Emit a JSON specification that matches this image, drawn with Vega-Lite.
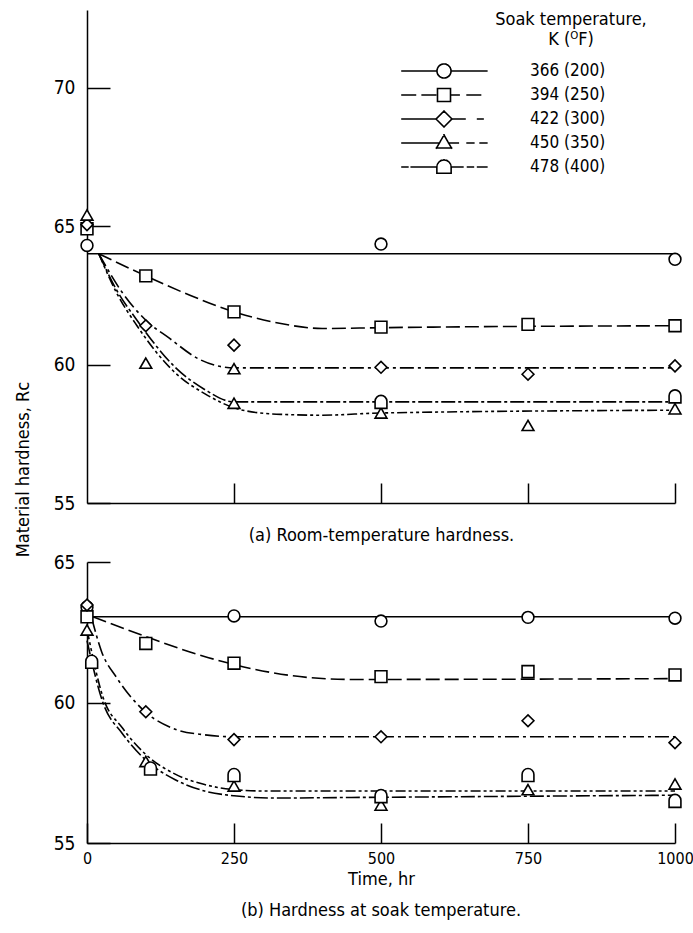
{
  "$schema": "https://vega.github.io/schema/vega-lite/v6.json",
  "padding": {"left": 14, "top": 10, "right": 5, "bottom": 5},
  "background": "white",
  "config": {
    "font": "DejaVu Sans Condensed, Liberation Sans Narrow, Liberation Sans, sans-serif",
    "view": {"stroke": null},
    "axis": {"domainColor": "black", "domainWidth": 1.5, "tickColor": "black", "tickWidth": 1.5, "labelColor": "black", "titleColor": "black", "grid": false, "titleFontWeight": "normal", "labelFontSize": 19, "titleFontSize": 18, "labelFlush": false},
    "title": {"fontWeight": "normal", "color": "black", "fontSize": 18},
    "legend": {"labelColor": "black"}
  },
  "datasets": {
    "pts": [
      {"panel": "a", "temp": "366 (200)", "time": 0, "hardness": 64.3},
      {"panel": "a", "temp": "366 (200)", "time": 500, "hardness": 64.35},
      {"panel": "a", "temp": "366 (200)", "time": 1000, "hardness": 63.8},
      {"panel": "a", "temp": "394 (250)", "time": 0, "hardness": 64.9},
      {"panel": "a", "temp": "394 (250)", "time": 100, "hardness": 63.2},
      {"panel": "a", "temp": "394 (250)", "time": 250, "hardness": 61.9},
      {"panel": "a", "temp": "394 (250)", "time": 500, "hardness": 61.35},
      {"panel": "a", "temp": "394 (250)", "time": 750, "hardness": 61.45},
      {"panel": "a", "temp": "394 (250)", "time": 1000, "hardness": 61.4},
      {"panel": "a", "temp": "422 (300)", "time": 0, "hardness": 65.05},
      {"panel": "a", "temp": "422 (300)", "time": 100, "hardness": 61.4},
      {"panel": "a", "temp": "422 (300)", "time": 250, "hardness": 60.7},
      {"panel": "a", "temp": "422 (300)", "time": 500, "hardness": 59.9},
      {"panel": "a", "temp": "422 (300)", "time": 750, "hardness": 59.65},
      {"panel": "a", "temp": "422 (300)", "time": 1000, "hardness": 59.95},
      {"panel": "a", "temp": "450 (350)", "time": 0, "hardness": 65.4},
      {"panel": "a", "temp": "450 (350)", "time": 100, "hardness": 60.05},
      {"panel": "a", "temp": "450 (350)", "time": 250, "hardness": 59.85},
      {"panel": "a", "temp": "450 (350)", "time": 250, "hardness": 58.6},
      {"panel": "a", "temp": "450 (350)", "time": 500, "hardness": 58.25},
      {"panel": "a", "temp": "450 (350)", "time": 750, "hardness": 57.8},
      {"panel": "a", "temp": "450 (350)", "time": 1000, "hardness": 58.4},
      {"panel": "a", "temp": "478 (400)", "time": 500, "hardness": 58.65},
      {"panel": "a", "temp": "478 (400)", "time": 1000, "hardness": 58.85},
      {"panel": "b", "temp": "366 (200)", "time": 0, "hardness": 63.4},
      {"panel": "b", "temp": "366 (200)", "time": 250, "hardness": 63.08},
      {"panel": "b", "temp": "366 (200)", "time": 500, "hardness": 62.9},
      {"panel": "b", "temp": "366 (200)", "time": 750, "hardness": 63.03},
      {"panel": "b", "temp": "366 (200)", "time": 1000, "hardness": 63.0},
      {"panel": "b", "temp": "394 (250)", "time": 0, "hardness": 63.05},
      {"panel": "b", "temp": "394 (250)", "time": 100, "hardness": 62.1},
      {"panel": "b", "temp": "394 (250)", "time": 250, "hardness": 61.4},
      {"panel": "b", "temp": "394 (250)", "time": 500, "hardness": 60.92},
      {"panel": "b", "temp": "394 (250)", "time": 750, "hardness": 61.1},
      {"panel": "b", "temp": "394 (250)", "time": 1000, "hardness": 60.98},
      {"panel": "b", "temp": "422 (300)", "time": 0, "hardness": 63.47},
      {"panel": "b", "temp": "422 (300)", "time": 100, "hardness": 59.67},
      {"panel": "b", "temp": "422 (300)", "time": 250, "hardness": 58.68},
      {"panel": "b", "temp": "422 (300)", "time": 500, "hardness": 58.78},
      {"panel": "b", "temp": "422 (300)", "time": 750, "hardness": 59.35},
      {"panel": "b", "temp": "422 (300)", "time": 1000, "hardness": 58.57},
      {"panel": "b", "temp": "450 (350)", "time": 0, "hardness": 62.58},
      {"panel": "b", "temp": "450 (350)", "time": 100, "hardness": 57.9},
      {"panel": "b", "temp": "450 (350)", "time": 250, "hardness": 57.03},
      {"panel": "b", "temp": "450 (350)", "time": 500, "hardness": 56.35},
      {"panel": "b", "temp": "450 (350)", "time": 750, "hardness": 56.9},
      {"panel": "b", "temp": "450 (350)", "time": 1000, "hardness": 57.1},
      {"panel": "b", "temp": "478 (400)", "time": 8, "hardness": 61.45},
      {"panel": "b", "temp": "478 (400)", "time": 108, "hardness": 57.65},
      {"panel": "b", "temp": "478 (400)", "time": 250, "hardness": 57.42},
      {"panel": "b", "temp": "478 (400)", "time": 500, "hardness": 56.67},
      {"panel": "b", "temp": "478 (400)", "time": 750, "hardness": 57.42},
      {"panel": "b", "temp": "478 (400)", "time": 1000, "hardness": 56.5}
    ],
    "curves": [
      {"panel": "a", "temp": "366 (200)", "time": 0, "hardness": 64.0},
      {"panel": "a", "temp": "366 (200)", "time": 1000, "hardness": 64.0},
      {"panel": "a", "temp": "394 (250)", "time": 20, "hardness": 64.0},
      {"panel": "a", "temp": "394 (250)", "time": 100, "hardness": 63.2},
      {"panel": "a", "temp": "394 (250)", "time": 175, "hardness": 62.5},
      {"panel": "a", "temp": "394 (250)", "time": 250, "hardness": 61.9},
      {"panel": "a", "temp": "394 (250)", "time": 325, "hardness": 61.5},
      {"panel": "a", "temp": "394 (250)", "time": 400, "hardness": 61.3},
      {"panel": "a", "temp": "394 (250)", "time": 500, "hardness": 61.33},
      {"panel": "a", "temp": "394 (250)", "time": 1000, "hardness": 61.4},
      {"panel": "a", "temp": "422 (300)", "time": 20, "hardness": 64.0},
      {"panel": "a", "temp": "422 (300)", "time": 60, "hardness": 62.6},
      {"panel": "a", "temp": "422 (300)", "time": 100, "hardness": 61.6},
      {"panel": "a", "temp": "422 (300)", "time": 140, "hardness": 60.95},
      {"panel": "a", "temp": "422 (300)", "time": 190, "hardness": 60.2},
      {"panel": "a", "temp": "422 (300)", "time": 250, "hardness": 59.88},
      {"panel": "a", "temp": "422 (300)", "time": 1000, "hardness": 59.88},
      {"panel": "a", "temp": "450 (350)", "time": 20, "hardness": 64.0},
      {"panel": "a", "temp": "450 (350)", "time": 50, "hardness": 62.6},
      {"panel": "a", "temp": "450 (350)", "time": 85, "hardness": 61.4},
      {"panel": "a", "temp": "450 (350)", "time": 150, "hardness": 59.7},
      {"panel": "a", "temp": "450 (350)", "time": 200, "hardness": 58.95},
      {"panel": "a", "temp": "450 (350)", "time": 265, "hardness": 58.35},
      {"panel": "a", "temp": "450 (350)", "time": 330, "hardness": 58.2},
      {"panel": "a", "temp": "450 (350)", "time": 400, "hardness": 58.17},
      {"panel": "a", "temp": "450 (350)", "time": 500, "hardness": 58.25},
      {"panel": "a", "temp": "450 (350)", "time": 1000, "hardness": 58.35},
      {"panel": "a", "temp": "478 (400)", "time": 20, "hardness": 64.0},
      {"panel": "a", "temp": "478 (400)", "time": 50, "hardness": 62.7},
      {"panel": "a", "temp": "478 (400)", "time": 85, "hardness": 61.6},
      {"panel": "a", "temp": "478 (400)", "time": 150, "hardness": 59.9},
      {"panel": "a", "temp": "478 (400)", "time": 200, "hardness": 59.1},
      {"panel": "a", "temp": "478 (400)", "time": 250, "hardness": 58.65},
      {"panel": "a", "temp": "478 (400)", "time": 1000, "hardness": 58.65},
      {"panel": "b", "temp": "366 (200)", "time": 0, "hardness": 63.05},
      {"panel": "b", "temp": "366 (200)", "time": 1000, "hardness": 63.05},
      {"panel": "b", "temp": "394 (250)", "time": 10, "hardness": 63.05},
      {"panel": "b", "temp": "394 (250)", "time": 100, "hardness": 62.35},
      {"panel": "b", "temp": "394 (250)", "time": 175, "hardness": 61.8},
      {"panel": "b", "temp": "394 (250)", "time": 250, "hardness": 61.35},
      {"panel": "b", "temp": "394 (250)", "time": 350, "hardness": 60.95},
      {"panel": "b", "temp": "394 (250)", "time": 450, "hardness": 60.82},
      {"panel": "b", "temp": "394 (250)", "time": 1000, "hardness": 60.85},
      {"panel": "b", "temp": "422 (300)", "time": 8, "hardness": 63.0},
      {"panel": "b", "temp": "422 (300)", "time": 25, "hardness": 61.8},
      {"panel": "b", "temp": "422 (300)", "time": 50, "hardness": 60.9},
      {"panel": "b", "temp": "422 (300)", "time": 100, "hardness": 59.65},
      {"panel": "b", "temp": "422 (300)", "time": 150, "hardness": 59.05},
      {"panel": "b", "temp": "422 (300)", "time": 200, "hardness": 58.85},
      {"panel": "b", "temp": "422 (300)", "time": 250, "hardness": 58.78},
      {"panel": "b", "temp": "422 (300)", "time": 1000, "hardness": 58.78},
      {"panel": "b", "temp": "450 (350)", "time": 0, "hardness": 62.6},
      {"panel": "b", "temp": "450 (350)", "time": 27, "hardness": 60.2},
      {"panel": "b", "temp": "450 (350)", "time": 60, "hardness": 59.1},
      {"panel": "b", "temp": "450 (350)", "time": 100, "hardness": 58.15},
      {"panel": "b", "temp": "450 (350)", "time": 150, "hardness": 57.45},
      {"panel": "b", "temp": "450 (350)", "time": 200, "hardness": 57.08},
      {"panel": "b", "temp": "450 (350)", "time": 250, "hardness": 56.9},
      {"panel": "b", "temp": "450 (350)", "time": 300, "hardness": 56.85},
      {"panel": "b", "temp": "450 (350)", "time": 1000, "hardness": 56.85},
      {"panel": "b", "temp": "478 (400)", "time": 0, "hardness": 62.2},
      {"panel": "b", "temp": "478 (400)", "time": 27, "hardness": 60.0},
      {"panel": "b", "temp": "478 (400)", "time": 60, "hardness": 58.9},
      {"panel": "b", "temp": "478 (400)", "time": 100, "hardness": 57.95},
      {"panel": "b", "temp": "478 (400)", "time": 150, "hardness": 57.25},
      {"panel": "b", "temp": "478 (400)", "time": 200, "hardness": 56.85},
      {"panel": "b", "temp": "478 (400)", "time": 250, "hardness": 56.68},
      {"panel": "b", "temp": "478 (400)", "time": 320, "hardness": 56.6},
      {"panel": "b", "temp": "478 (400)", "time": 450, "hardness": 56.62},
      {"panel": "b", "temp": "478 (400)", "time": 1000, "hardness": 56.7}
    ]
  },
  "vconcat": [
    {
      "width": 588,
      "height": 493,
      "title": {"text": ["Soak temperature,", "K (ᴼF)"], "orient": "top", "anchor": "start", "frame": "group", "align": "center", "baseline": "top", "offset": 0, "dx": 484, "dy": 39, "lineHeight": 20, "fontSize": 18},
      "layer": [
        {
          "data": {"name": "curves"},
          "transform": [{"filter": "datum.panel === 'a'"}],
          "mark": {"type": "line", "color": "black", "strokeWidth": 1.6, "interpolate": "monotone"},
          "encoding": {
            "x": {"field": "time", "type": "quantitative", "scale": {"domain": [0, 1000], "nice": false},
              "axis": {"values": [250, 500, 750, 1000], "tickSize": -20, "labels": false, "title": "(a) Room-temperature hardness.", "titlePadding": 23}},
            "y": {"field": "hardness", "type": "quantitative", "scale": {"domain": [55, 72.8], "nice": false, "zero": false},
              "axis": {"values": [55, 60, 65, 70], "tickSize": -23, "labelPadding": 35, "title": "Material hardness, Rᴄ", "titleX": -64, "titleY": 459, "titleAngle": -90, "titleBaseline": "middle", "titleAlign": "center"}},
            "detail": {"field": "temp"},
            "strokeDash": {"field": "temp", "type": "nominal",
              "scale": {"domain": ["366 (200)", "394 (250)", "422 (300)", "450 (350)", "478 (400)"], "range": [[1, 0], [14, 5], [14, 4, 3, 4], [10, 3, 3, 3, 3, 3], [14, 3, 3, 3]]},
              "legend": {"orient": "none", "legendX": 314, "legendY": 52, "title": null, "symbolType": "stroke", "symbolSize": 7056, "clipHeight": 18, "symbolStrokeWidth": 1.6, "symbolStrokeColor": "black", "symbolFillColor": "white", "labelFontSize": 17, "labelOffset": 43, "rowPadding": 6, "padding": 0,
                "encode": {"symbols": {"update": {
                  "shape": {"signal": "datum.value === '366 (200)' ? 'M-1,0L-0.167,0M0.167,0L1.02,0M0.167,0A0.167,0.167 0 1,1 -0.167,0A0.167,0.167 0 1,1 0.167,0Z' : datum.value === '394 (250)' ? 'M-1,0L-0.68,0M-0.52,0L-0.2,0M0.16,0L0.36,0M0.55,0L0.87,0M-0.155,-0.155L0.155,-0.155M0.155,-0.155L0.155,0.155M0.155,0.155L-0.155,0.155M-0.155,0.155L-0.155,-0.155' : datum.value === '422 (300)' ? 'M-1,0L-0.69,0M-0.67,0L-0.36,0M-0.34,0L-0.19,0M0.19,0L0.5,0M0.8,0L0.93,0M0,-0.19L0.19,0M0.19,0L0,0.19M0,0.19L-0.19,0M-0.19,0L0,-0.19' : datum.value === '450 (350)' ? 'M-1,0L-0.77,0M-0.75,0L-0.52,0M-0.5,0L-0.27,0M-0.25,0L-0.11,0M0.11,0L0.34,0M0.55,0L0.71,0M0.86,0L1.02,0M0,-0.19L0.09,-0.035M0.09,-0.035L0.18,0.12M0.18,0.12L0,0.12M0,0.12L-0.18,0.12M-0.18,0.12L-0.09,-0.035M-0.09,-0.035L0,-0.19' : 'M-1,0L-0.86,0M-0.78,0L-0.47,0M-0.45,0L-0.17,0M0.17,0L0.45,0M0.56,0L0.7,0M0.8,0L1.02,0M-0.17,0.15L-0.17,0M-0.17,0A0.17,0.17 0 0,1 0,-0.17M0,-0.17A0.17,0.17 0 0,1 0.17,0M0.17,0L0.17,0.15M0.17,0.15L0,0.15M0,0.15L-0.17,0.15'"},
                  "size": {"value": 7056},
                  "strokeDash": {"value": [1, 0]},
                  "strokeCap": {"value": "square"},
                  "fill": {"value": "transparent"},
                  "stroke": {"value": "black"},
                  "strokeWidth": {"value": 1.6}
                }}}}}
          }
        },
        {
          "data": {"name": "pts"},
          "transform": [{"filter": "datum.panel === 'a'"}],
          "mark": {"type": "point", "filled": false, "fill": "white", "fillOpacity": 1, "stroke": "black", "strokeWidth": 1.6, "size": 140, "opacity": 1},
          "encoding": {
            "x": {"field": "time", "type": "quantitative"},
            "y": {"field": "hardness", "type": "quantitative"},
            "shape": {"field": "temp", "type": "nominal",
              "scale": {"range": ["circle", "square", "diamond", "triangle-up", "M-1,1.1V-0.1A1,1 0 0,1 1,-0.1V1.1Z"]},
              "legend": null}
          }
        }
      ]
    },
    {
      "width": 588,
      "height": 281,
      "title": {"text": "(b) Hardness at soak temperature.", "orient": "bottom", "anchor": "middle", "offset": 14, "fontSize": 18},
      "layer": [
        {
          "data": {"name": "curves"},
          "transform": [{"filter": "datum.panel === 'b'"}],
          "mark": {"type": "line", "color": "black", "strokeWidth": 1.6, "interpolate": "monotone"},
          "encoding": {
            "x": {"field": "time", "type": "quantitative", "scale": {"domain": [0, 1000], "nice": false},
              "axis": {"values": [0, 250, 500, 750, 1000], "format": "d", "tickSize": -20, "labelPadding": 27, "labelFlush": false, "labelFontSize": 16, "title": "Time, hr", "titlePadding": 4}},
            "y": {"field": "hardness", "type": "quantitative", "scale": {"domain": [55, 65], "nice": false, "zero": false},
              "axis": {"values": [55, 60, 65], "tickSize": -23, "labelPadding": 35, "title": null}},
            "detail": {"field": "temp"},
            "strokeDash": {"field": "temp", "type": "nominal", "legend": null}
          }
        },
        {
          "data": {"name": "pts"},
          "transform": [{"filter": "datum.panel === 'b'"}],
          "mark": {"type": "point", "filled": false, "fill": "white", "fillOpacity": 1, "stroke": "black", "strokeWidth": 1.6, "size": 140, "opacity": 1},
          "encoding": {
            "x": {"field": "time", "type": "quantitative"},
            "y": {"field": "hardness", "type": "quantitative"},
            "shape": {"field": "temp", "type": "nominal", "legend": null}
          }
        }
      ]
    }
  ],
  "spacing": 59,
  "bounds": "flush",
  "resolve": {"scale": {"y": "independent", "strokeDash": "shared", "shape": "shared"}}
}
